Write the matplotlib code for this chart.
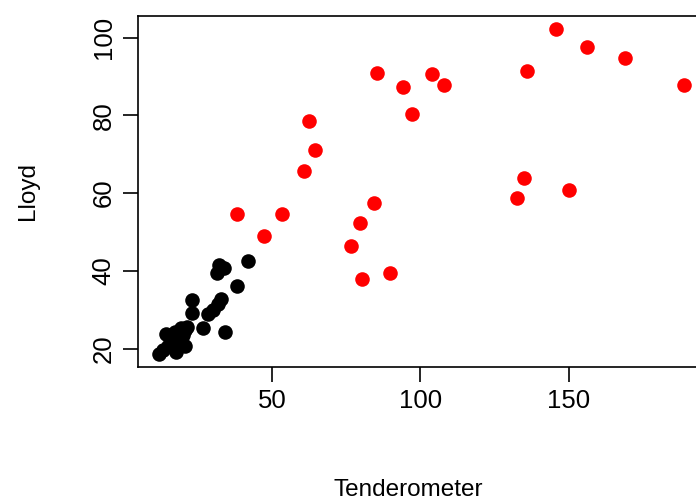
import matplotlib
matplotlib.use("Agg")
import matplotlib.pyplot as plt

plt.rcParams['font.family'] = ['Liberation Sans', 'DejaVu Sans']

# black group (low values)
tend_black = [12.0, 13.3, 15.0, 16.7, 17.7, 16.3, 18.0, 19.4, 20.0, 20.7, 19.4, 17.3, 14.3,
              21.4, 23.1, 23.1, 26.8, 34.2, 28.5, 30.1, 31.8, 32.8, 38.2, 41.9, 32.2, 31.5,
              33.8, 20.7]
lloyd_black = [18.6, 19.6, 20.6, 20.4, 19.1, 21.9, 22.7, 21.7, 23.5, 24.8, 25.3, 24.3, 23.7,
               25.6, 32.5, 29.2, 25.3, 24.3, 28.9, 29.9, 31.5, 32.8, 36.1, 42.6, 41.6, 39.5,
               40.8, 20.6]

# red group (high values)
tend_red = [145.7, 156.1, 169.0, 136.0, 85.4, 103.9, 94.1, 108.1, 188.8, 97.2, 62.6, 64.6,
            60.9, 38.3, 53.5, 47.4, 84.4, 79.7, 76.7, 80.4, 89.8, 132.6, 135.0, 150.1]
lloyd_red = [102.2, 97.6, 94.7, 91.4, 90.9, 90.7, 87.3, 87.8, 87.8, 80.3, 78.5, 71.0,
             65.8, 54.7, 54.7, 49.0, 57.5, 52.4, 46.3, 37.9, 39.4, 58.8, 64.0, 60.7]

xticks = [50, 100, 150]
yticks = [20, 40, 60, 80, 100]

fig = plt.figure(figsize=(6.96, 5.04), dpi=100)
ax = fig.add_axes([138 / 696, 1 - 367 / 504, (705 - 138) / 696, (367 - 16) / 504])

ax.scatter(tend_black, lloyd_black, s=110, color='black', linewidths=0, clip_on=False)
ax.scatter(tend_red, lloyd_red, s=110, color='#ff0000', linewidths=0, clip_on=False)

allx = tend_black + tend_red
ally = lloyd_black + lloyd_red
rx = max(allx) - min(allx)
ry = max(ally) - min(ally)
ax.set_xlim(min(allx) - 0.04 * rx, max(allx) + 0.04 * rx)
ax.set_ylim(min(ally) - 0.04 * ry, max(ally) + 0.04 * ry)

ax.set_xticks(xticks)
ax.set_yticks(yticks)
ax.set_yticklabels([str(v) for v in yticks], rotation=90, va='center')
ax.tick_params(axis='both', length=11, width=1.2, labelsize=18.5, direction='out')
ax.tick_params(axis='x', pad=5)
ax.tick_params(axis='y', pad=5)
for sp in ax.spines.values():
    sp.set_linewidth(1.2)

ax.set_xlabel('Tenderometer', fontsize=17.5)
ax.set_ylabel('Lloyd', fontsize=17.5)
ax.xaxis.set_label_coords((408 - 138) / (705 - 138), -(490 - 367) / (367 - 16), transform=ax.transAxes)
ax.yaxis.set_label_coords(-(138 - 28) / (705 - 138), 0.5, transform=ax.transAxes)
ax.xaxis.label.set_va('center')
ax.yaxis.label.set_va('center')

fig.savefig('out.png', dpi=100)
